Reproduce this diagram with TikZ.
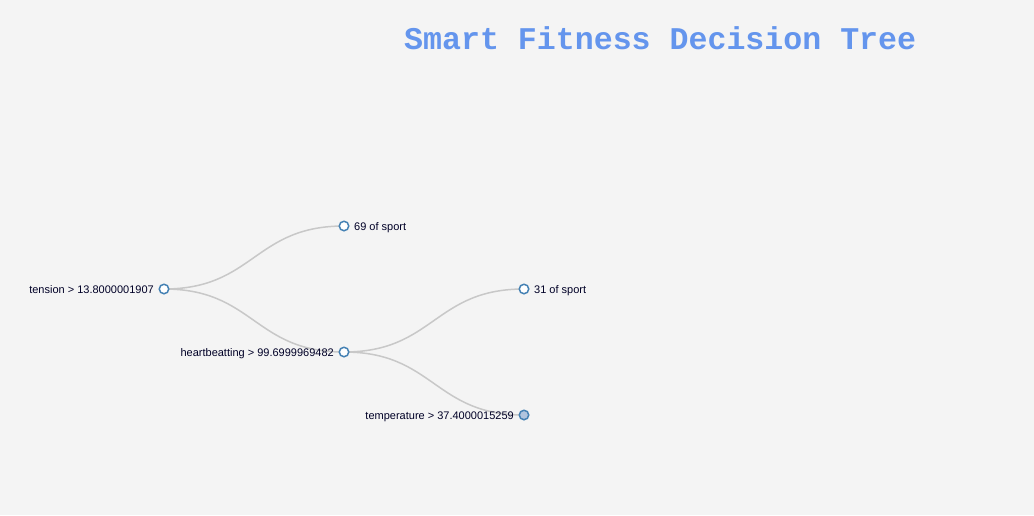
\documentclass[tikz,border=0pt]{standalone}
\usepackage{fontspec}
\setmainfont{Liberation Sans}
\newfontfamily\titlefont{Liberation Mono}
\definecolor{bg}{HTML}{F4F4F4}
\definecolor{titleblue}{HTML}{6495ED}
\definecolor{nodeblue}{HTML}{4682B4}
\definecolor{fillblue}{HTML}{B0C4DE}
\definecolor{linkgray}{HTML}{C8C8C8}
\begin{document}
\begin{tikzpicture}[x=1pt,y=-1pt,
  treenode/.style={circle,draw=nodeblue,line width=1.5pt,fill=white,minimum size=9.5pt,inner sep=0pt},
  collapsed/.style={treenode,fill=fillblue},
  link/.style={draw=linkgray,line width=1.5pt},
  lbl/.style={font=\fontsize{11}{13}\selectfont,text=black!85!blue,inner sep=0pt}
]
\fill[bg] (0,0) rectangle (1034,515);
\useasboundingbox (0,0) rectangle (1034,515);

\node[anchor=base west,inner sep=0pt,text=titleblue,font=\titlefont\bfseries\fontsize{31.6}{34}\selectfont] (title) at (404,49) {Smart Fitness Decision Tree};

\coordinate (r) at (164,289);
\coordinate (a) at (344,226);
\coordinate (h) at (344,352);
\coordinate (b) at (524,289);
\coordinate (t) at (524,415);

\draw[link] (r) .. controls (254,289) and (254,226) .. (a);
\draw[link] (r) .. controls (254,289) and (254,352) .. (h);
\draw[link] (h) .. controls (434,352) and (434,289) .. (b);
\draw[link] (h) .. controls (434,352) and (434,415) .. (t);

\node[treenode] (rn) at (r) {};
\node[treenode] (an) at (a) {};
\node[treenode] (hn) at (h) {};
\node[treenode] (bn) at (b) {};
\node[collapsed] (tn) at (t) {};

\node[lbl,anchor=base east] (rl) at (154,293) {tension > 13.8000001907};
\node[lbl,anchor=base west] (al) at (354,230) {69 of sport};
\node[lbl,anchor=base east] (hl) at (334,356) {heartbeatting > 99.6999969482};
\node[lbl,anchor=base west] (bl) at (534,293) {31 of sport};
\node[lbl,anchor=base east] (tl) at (514,419) {temperature > 37.4000015259};
\end{tikzpicture}
\end{document}
